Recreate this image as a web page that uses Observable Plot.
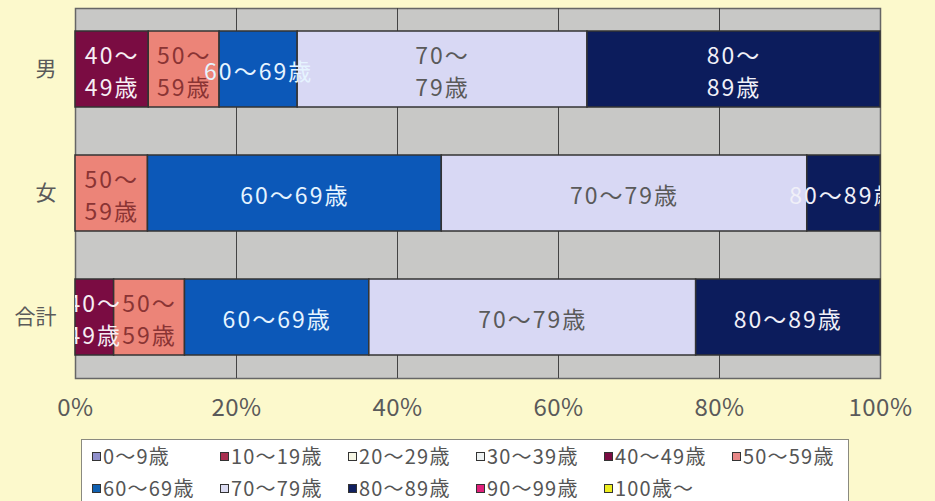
<!DOCTYPE html>
<html>
<head>
<meta charset="utf-8">
<script src="https://cdn.jsdelivr.net/npm/d3@7"></script>
<script src="https://cdn.jsdelivr.net/npm/@observablehq/plot@0.6"></script>
<style>
  html, body { margin: 0; padding: 0; background: #fcf9cc; }
  body { position: relative; width: 935px; height: 501px; overflow: hidden;
         font-family: "Noto Sans CJK JP", "Noto Sans", sans-serif; }
  #legend { position: absolute; left: 81px; top: 439px; width: 768px; height: 70px;
            background: #ffffff; border: 1px solid #8a8a80; box-sizing: border-box;
            padding: 0 0 0 10px; display: grid; grid-template-columns: repeat(6, 128px);
            grid-template-rows: 32px 32px; align-items: center; color: #555; font-size: 20px; line-height: 22px; }
  #legend .item { display: flex; align-items: center; white-space: nowrap; letter-spacing: 1.2px; }
  #legend .sw { width: 7px; height: 7px; border: 1.5px solid #333; margin-right: 2px; flex: none; }
  g[aria-label="text"] text { letter-spacing: 2px; }
  g[aria-label="x-axis tick label"] text { letter-spacing: 0.5px; }
</style>
</head>
<body>
<div id="chart"></div>
<div id="legend"></div>
<script>
// ---- data ----
const groups = ["男", "女", "合計"];
const ages = ["40～49歳", "50～59歳", "60～69歳", "70～79歳", "80～89歳"];
const ageColors = ["#7a0c42", "#ec8478", "#0c58b8", "#d8d8f4", "#0c1c5c"];
const labelColors = ["#f6eef4", "#8a3434", "#e6f4ff", "#5a5a5a", "#f0f0f8"];

const maleValues = [9.1, 8.8, 9.7, 36.0, 36.4];
const femaleValues = [0, 9.0, 36.5, 45.4, 9.1];
const totalValues = [4.8, 8.8, 22.9, 40.6, 22.9];

const maleLabels = ["40～\n49歳", "50～\n59歳", "60～69歳", "70～\n79歳", "80～\n89歳"];
const femaleLabels = ["", "50～\n59歳", "60～69歳", "70～79歳", "80～89歳"];
const totalLabels = ["40～\n49歳", "50～\n59歳", "60～69歳", "70～79歳", "80～89歳"];

const xTicks = [0, 20, 40, 60, 80, 100];

const legendLabels = ["0～9歳", "10～19歳", "20～29歳", "30～39歳", "40～49歳", "50～59歳",
                      "60～69歳", "70～79歳", "80～89歳", "90～99歳", "100歳～"];
const legendColors = ["#9090cc", "#a83050", "#f6f6e4", "#eef2f2", "#7a0c42", "#e88888",
                      "#1060b0", "#dcdcf2", "#102060", "#e0207a", "#eeee20"];

// ---- table built from arrays ----
const seriesByGroup = [maleValues, femaleValues, totalValues];
const labelsByGroup = [maleLabels, femaleLabels, totalLabels];
const rows = [];
groups.forEach((g, gi) => {
  ages.forEach((a, ai) => {
    const v = seriesByGroup[gi][ai];
    if (v > 0) rows.push({group: g, age: a, value: v, label: labelsByGroup[gi][ai],
                          color: ageColors[ai], textColor: labelColors[ai]});
  });
});

const chart = Plot.plot({
  width: 935,
  height: 436,
  marginTop: 8,
  marginLeft: 75,
  marginRight: 55,
  marginBottom: 58,
  style: {background: "transparent", fontFamily: "'Noto Sans CJK JP', 'Noto Sans', sans-serif", color: "#5a5a5a"},
  x: {domain: [0, 100], ticks: xTicks, tickFormat: d => d + "%", label: null},
  y: {domain: groups, paddingInner: 0.385, paddingOuter: 0.177, label: null},
  color: {type: "identity"},
  marks: [
    Plot.frame({fill: "#c8c8c6", stroke: "#666", strokeWidth: 1.5}),
    Plot.ruleX(xTicks.slice(1, -1), {stroke: "#444", strokeWidth: 1}),
    Plot.barX(rows, Plot.stackX({x: "value", y: "group", fill: "color", stroke: "#333", strokeWidth: 1.5})),
    Plot.text(rows, Plot.stackX({x: "value", y: "group", text: "label", fill: "textColor",
      fontSize: 23, lineHeight: 1.4, clip: "frame"})),
    Plot.axisX({ticks: xTicks, tickFormat: d => d + "%", tickSize: 0, tickPadding: 20, fontSize: 24, anchor: "bottom"}),
    Plot.axisY({tickSize: 0, tickPadding: 19, fontSize: 21, anchor: "left"})
  ]
});
document.getElementById("chart").appendChild(chart);

// ---- legend ----
const legend = document.getElementById("legend");
legendLabels.forEach((lab, i) => {
  const item = document.createElement("div");
  item.className = "item";
  const sw = document.createElement("span");
  sw.className = "sw";
  sw.style.background = legendColors[i];
  item.appendChild(sw);
  item.appendChild(document.createTextNode(lab));
  legend.appendChild(item);
});
</script>
</body>
</html>
